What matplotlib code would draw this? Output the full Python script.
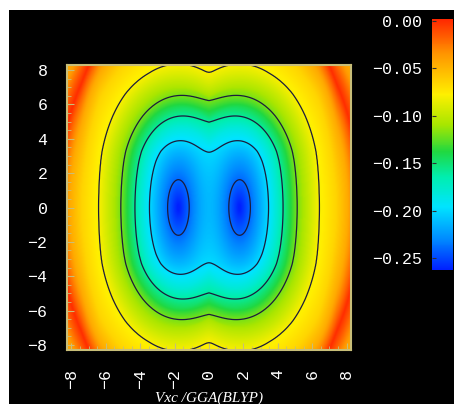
import numpy as np
import matplotlib.pyplot as plt
from matplotlib.colors import LinearSegmentedColormap
from matplotlib.patches import Rectangle
from matplotlib.ticker import MultipleLocator

# the two minima sit on the x axis
well_x = [-1.78, 1.78]

# height above a well -> equivalent horizontal distance (the wells are stretched along y)
stretch_y = [0.0, 1.0, 1.63, 2.2, 2.7, 3.27, 3.96, 4.95, 5.32, 6.24, 6.63, 7.82, 8.5, 10.0, 12.0]
stretch_d = [0.0, 0.387, 0.63, 0.86, 1.07, 1.35, 1.78, 2.40, 2.63, 3.22, 3.47, 4.30, 4.72, 5.5, 6.5]
# weaker stretch out at the left/right edges
far_y = [0.0, 12.0]
far_d = [0.0, 7.0]
far_from, far_width = 6.4, 1.0

# how strongly the two wells merge, vs distance to the nearest one
merge_d = [0.0, 2.25, 3.0, 3.7, 4.6]
merge_p = [2.2, 2.2, 3.3, 7.2, 60.0]

# Vxc along the merged distance
prof_d = [0.0, 0.62, 1.62, 2.43, 3.325, 4.63, 5.6, 6.3, 6.75, 7.05, 7.35, 7.8, 8.5]
prof_v = [-0.265, -0.24, -0.20, -0.16, -0.12, -0.08, -0.065, -0.045, -0.02, 0.0,
          -0.015, -0.04, -0.055]

levels = [-0.24, -0.20, -0.16, -0.12, -0.08]
ticks = [-8, -6, -4, -2, 0, 2, 4, 6, 8]
cbar_ticks = [0.0, -0.05, -0.10, -0.15, -0.20, -0.25]
cbar_labels = ['0.00', '\u22120.05', '\u22120.10', '\u22120.15', '\u22120.20', '\u22120.25']

# colour table, blue (low) to red (high)
cmap_pos = [0.0, 0.12, 0.25, 0.37, 0.47, 0.58, 0.70, 0.86, 1.0]
cmap_rgb = ['#0020ff', '#0088ff', '#00e4ff', '#00eeb0', '#20d840',
            '#a8e600', '#fff000', '#ff9600', '#ff2800']
cmap = LinearSegmentedColormap.from_list('vxc', list(zip(cmap_pos, cmap_rgb)))

vmin, vmax = -0.2627, 0.0021
xr, yr = 8.25, 8.3

x = np.linspace(-xr, xr, 500)
y = np.linspace(-yr, yr, 500)
X, Y = np.meshgrid(x, y)

w = np.clip((np.abs(X) - far_from) / far_width, 0, 1)
fy = (1 - w) * np.interp(np.abs(Y), stretch_y, stretch_d) + w * np.interp(np.abs(Y), far_y, far_d)
d1 = np.hypot(X - well_x[0], fy)
d2 = np.hypot(X - well_x[1], fy)
dm = np.maximum(np.minimum(d1, d2), 1e-6)
dM = np.maximum(d1, d2)
p = np.interp(dm, merge_d, merge_p)
rho = dm * (1 + (dm / dM) ** p) ** (-1 / p)
V = np.interp(rho, prof_d, prof_v)

fig = plt.figure(figsize=(4.54, 4.04), dpi=100, facecolor='white')
fig.patches.append(Rectangle((9 / 454, 0), 1, 1 - 10 / 404, transform=fig.transFigure,
                             facecolor='black', edgecolor='none', zorder=-1))

ax = fig.add_axes([67 / 454, 1 - 350 / 404, 284 / 454, 285 / 404])
ax.set_facecolor('black')
im = ax.imshow(V, extent=[-xr, xr, -yr, yr], origin='lower', cmap=cmap,
               vmin=vmin, vmax=vmax, interpolation='bilinear', aspect='auto')
ax.contour(X, Y, V, levels=levels, colors='#1c1c3c', linewidths=0.9, linestyles='solid')
ax.set_xlim(-xr, xr)
ax.set_ylim(-yr, yr)

frame = '#c8be78'
for s in ax.spines.values():
    s.set_color(frame)
    s.set_linewidth(1.5)

tick_font = {'family': 'Liberation Mono', 'size': 12}
ax.set_xticks(ticks)
ax.set_yticks(ticks)
ax.set_xticklabels([str(t).replace('-', '\u2212') for t in ticks], rotation=90, **tick_font)
ax.set_yticklabels([str(t).replace('-', '\u2212') for t in ticks], **tick_font)
ax.xaxis.set_minor_locator(MultipleLocator(0.5))
ax.yaxis.set_minor_locator(MultipleLocator(0.5))
ax.tick_params(which='both', direction='in', color=frame, labelcolor='white',
               top=False, right=False)
ax.tick_params(which='major', length=5, pad=14)
ax.tick_params(which='minor', length=3)

fig.text(209 / 454, 1 - 392 / 404, 'Vxc /GGA(BLYP)', family='Liberation Serif',
         style='italic', color='white', fontsize=11, ha='center', va='top')

cax = fig.add_axes([432 / 454, 1 - 270 / 404, 21 / 454, 251 / 404])
cb = fig.colorbar(im, cax=cax)
cb.outline.set_visible(False)
cb.set_ticks(cbar_ticks)
cb.set_ticklabels(cbar_labels)
cax.yaxis.set_ticks_position('left')
cax.tick_params(length=3, color='#303030', direction='in', labelcolor='white', pad=7)
for lab in cax.get_yticklabels():
    lab.set_family('Liberation Mono')
    lab.set_fontsize(12)

fig.savefig('out.png', dpi=100, facecolor=fig.get_facecolor())
